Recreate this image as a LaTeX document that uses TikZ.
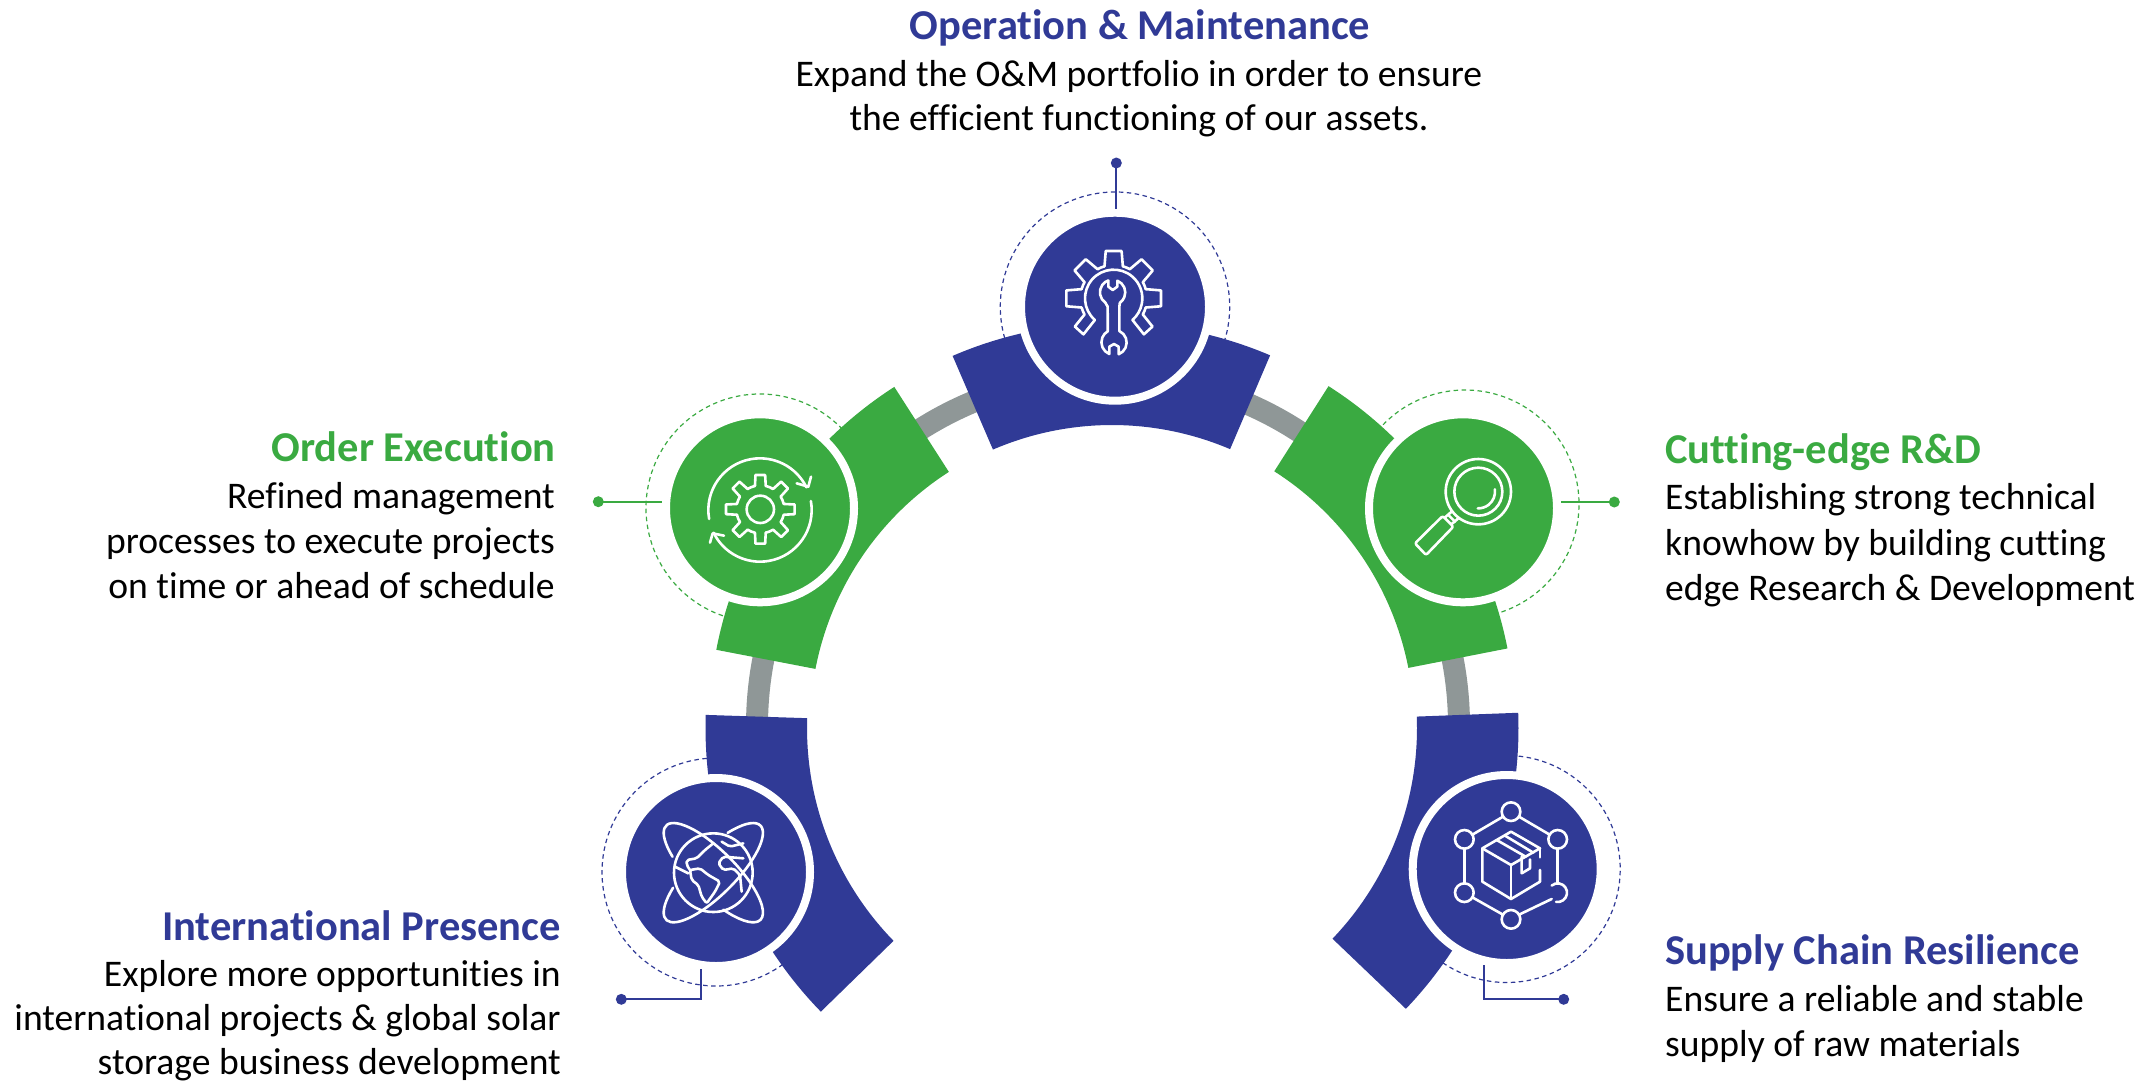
\documentclass[tikz,border=0pt]{standalone}
\usepackage{fontspec}
\setmainfont[Ligatures=CommonOff]{Carlito}
\definecolor{cblue}{HTML}{303A96}
\definecolor{cgreen}{HTML}{3AAA41}
\definecolor{cgrey}{HTML}{8F9797}
\newcommand\sector[7]{\fill[#1] ([shift={(#6:#5)}]#2,#3) arc[start angle=#6,end angle=#7,radius=#5] -- ([shift={(#7:#4)}]#2,#3) arc[start angle=#7,end angle=#6,radius=#4] -- cycle;}
\newcommand\halop[6]{\draw[halo=#1] ([shift={(#5:#4)}]#2,#3) arc[start angle=#5,end angle=#6,radius=#4];}
\tikzset{
  disc/.style={circle,fill=#1,draw=white,line width=8pt,minimum size=188pt,inner sep=0pt},
  dotn/.style={circle,fill=#1,draw=none,minimum size=11pt,inner sep=0pt},
  halo/.style={draw=#1,line width=1.2pt,dash pattern=on 4.5pt off 3.5pt},
  lead/.style={draw=#1,line width=2pt},
  ico/.style={draw=white,line width=2.6pt,line join=round,line cap=round},
  ttl/.style={font=\fontsize{42.5}{42.5}\selectfont\bfseries,text=#1,inner sep=0pt},
  bodyt/.style={font=\fontsize{37.6}{37.6}\selectfont,text=black,inner sep=0pt},
  zoomed/.style={shift={#1},x=0.33333pt,y=-0.33333pt},
}
\begin{document}
\begin{tikzpicture}[x=1pt,y=-1pt]
\useasboundingbox (0,0) rectangle (2154,1080);
% ring
\draw[cgrey,line width=22pt] ([shift={(180:351)}]1108,726) arc[start angle=180,end angle=360,radius=351];
% halos
\halop{cblue}{1115}{306.7}{114.7}{160}{380}
\halop{cgreen}{760}{508}{114}{105}{320}
\halop{cgreen}{1465}{504}{114}{220}{435}
\halop{cblue}{716}{872}{114}{50}{272}
\halop{cblue}{1506.7}{869}{113.5}{268}{488}
% sectors
\sector{cblue}{1112}{726}{301}{403}{246.7}{293.1}
\sector{cgreen}{1112}{726}{302}{403}{190.9}{237.3}
\sector{cgreen}{1112}{726}{302}{403}{302.5}{348.9}
\sector{cblue}{1112}{728}{305}{406.5}{135.75}{181.85}
\sector{cblue}{1112}{728}{305}{406.5}{357.85}{403.7}
% discs
\node[disc=cblue] (opm) at (1115,306.7) {};
\node[disc=cgreen] (ord) at (760,508.3) {};
\node[disc=cgreen] (rnd) at (1463,508.3) {};
\node[disc=cblue] (int) at (716,872) {};
\node[disc=cblue] (sup) at (1506.7,869) {};
% connectors
\node[dotn=cblue] (dopm) at (1116.3,163) {};
\coordinate (eopm) at (1116.3,209);
\draw[lead=cblue] (dopm.center) -- (eopm);
\node[dotn=cgreen] (dord) at (598.3,501.7) {};
\coordinate (eord) at (662,501.7);
\draw[lead=cgreen] (dord.center) -- (eord);
\node[dotn=cgreen] (drnd) at (1614.3,502) {};
\coordinate (ernd) at (1561,502);
\draw[lead=cgreen] (drnd.center) -- (ernd);
\node[dotn=cblue] (dint) at (621.3,999.3) {};
\coordinate (eint) at (701,969.3);
\draw[lead=cblue] (dint.center) -| (eint);
\node[dotn=cblue] (dsup) at (1563.7,999.3) {};
\coordinate (esup) at (1483.7,965);
\draw[lead=cblue] (dsup.center) -| (esup);
% icon: gear + wrench
\begin{scope}[zoomed={(920,130)},ico]
 \foreach \a in {180,225,270,315,360}{
  \draw ([shift={(\a-16:100)}]581,505) -- ([shift={(\a-9.5:144)}]581,505) -- ([shift={(\a+9.5:144)}]581,505) -- ([shift={(\a+16:100)}]581,505);
 }
 \foreach \a in {180,225,270,315}{
  \draw ([shift={(\a+16:100)}]581,505) arc[start angle=\a+16,end angle=\a+45-16,radius=100];
 }
 \draw ([shift={(131:86)}]581,505) -- ([shift={(130:141)}]581,505) -- ([shift={(144:144)}]581,505) -- ([shift={(151:100)}]581,505) arc[start angle=151,end angle=164,radius=100];
 \draw ([shift={(49:86)}]581,505) -- ([shift={(50:141)}]581,505) -- ([shift={(36:144)}]581,505) -- ([shift={(29:100)}]581,505) arc[start angle=29,end angle=16,radius=100];
 \draw ([shift={(131:86)}]581,505) arc[start angle=131,end angle=409,radius=86];
 \draw (592,452) arc[start angle=-68,end angle=55,radius=38] -- (598,530) -- (598,603) arc[start angle=-65,end angle=68,radius=38] -- (596,650) -- (582,642) -- (568,650) -- (568,672) arc[start angle=112,end angle=240,radius=38] -- (563,530) -- (556,518) arc[start angle=125,end angle=250,radius=38] -- (565,470) -- (578,480) -- (592,470) -- cycle;
\end{scope}
% icon: gear + arrows
\begin{scope}[zoomed={(580,370)},ico]
 \foreach \a in {0,45,...,315}{
  \draw ([shift={(\a-13:72)}]541,418) -- ([shift={(\a-8:104)}]541,418) -- ([shift={(\a+8:104)}]541,418) -- ([shift={(\a+13:72)}]541,418) arc[start angle=\a+13,end angle=\a+32,radius=72];
 }
 \draw (541,418) circle[radius=41];
 \draw ([shift={(170:155)}]540,420) arc[start angle=170,end angle=334,radius=155];
 \draw ([shift={(-10:155)}]540,420) arc[start angle=-10,end angle=154,radius=155];
 \draw (650,340) -- (685,350) -- (693,320);
 \draw (432,497) -- (398,490) -- (390,518);
\end{scope}
% icon: magnifier
\begin{scope}[zoomed={(1260,370)},ico]
 \draw (655,365) circle[radius=98];
 \draw (655,365) circle[radius=72];
 \draw ([shift={(-8:50)}]655,365) arc[start angle=-8,end angle=92,radius=50];
 \draw[rounded corners=2pt] (465,520) -- (498,555) -- (580,470) -- (548,438) -- cycle;
 \draw (554,443) -- (576,424);
 \draw (574,463) -- (596,444);
 \draw (565,435) -- (585,455);
\end{scope}
% icon: globe
\begin{scope}[zoomed={(590,700)},ico]
 \draw (370,518) circle[radius=118];
 \begin{scope}[shift={(370,518)},rotate=-45]
  \draw ([shift={(127:200 and 66)}]0,0) arc[start angle=127,end angle=420,x radius=200,y radius=66];
 \end{scope}
 \begin{scope}[shift={(370,518)},rotate=45]
  \draw ([shift={(234:200 and 66)}]0,0) arc[start angle=234,end angle=-55,x radius=200,y radius=66];
 \end{scope}
 \begin{scope}[rounded corners=2pt]
 \draw (300,510) -- (330,505) -- (355,525) -- (390,545) -- (375,575) -- (350,610) -- (335,590) -- (325,555) -- (305,540) -- cycle;
 \draw (370,430) -- (345,450) -- (320,475) -- (290,480) -- (290,495) -- (300,510);
 \draw (255,500) -- (295,520);
 \draw (460,475) -- (400,470) -- (385,490) -- (400,510) -- (430,505) -- (450,525) -- (455,575);
 \draw (395,425) -- (420,440) -- (460,430);
 \end{scope}
\end{scope}
% icon: box network
\begin{scope}[zoomed={(1320,700)},ico]
 \draw (573,335) circle[radius=28];
 \draw (713,418) circle[radius=28];
 \draw (433,418) circle[radius=28];
 \draw (433,578) circle[radius=28];
 \draw (573,658) circle[radius=28];
 \draw ([shift={(100:28)}]713,578) arc[start angle=100,end angle=-130,radius=28];
 \draw (597,350) -- (689,404);
 \draw (549,350) -- (457,404);
 \draw (433,446) -- (433,550);
 \draw (713,446) -- (713,550);
 \draw (457,592) -- (549,644);
 \draw (597,644) -- (695,597);
 \draw (573,395) -- (660,445) -- (573,495) -- (487,445) -- cycle;
 \draw (487,445) -- (487,545) -- (573,597) -- (660,545) -- (660,510);
 \draw (660,445) -- (660,472);
 \draw (573,495) -- (573,597);
 \draw (530,420) -- (617,470);
 \draw (555,407) -- (640,458);
 \draw (605,470) -- (605,520) -- (630,505) -- (630,478);
\end{scope}
% text
\node[ttl=cblue,anchor=base] (topt) at (1140,39.5) {Operation \& Maintenance};
\node[bodyt,anchor=base] (topa) at (1139,86) {Expand the O\&M portfolio in order to ensure};
\node[bodyt,anchor=base] (topb) at (1139,130) {the efficient functioning of our assets.};
\node[ttl=cgreen,anchor=base east] (ordt) at (556,461.5) {Order Execution};
\node[bodyt,anchor=base east] (orda) at (555,508) {Refined management};
\node[bodyt,anchor=base east] (ordb) at (555,553) {processes to execute projects};
\node[bodyt,anchor=base east] (ordc) at (555,598) {on time or ahead of schedule};
\node[ttl=cgreen,anchor=base west] (rndt) at (1665,463.5) {Cutting-edge R\&D};
\node[bodyt,anchor=base west] (rnda) at (1665,509) {Establishing strong technical};
\node[bodyt,anchor=base west] (rndb) at (1665,555) {knowhow by building cutting};
\node[bodyt,anchor=base west] (rndc) at (1665,600) {edge Research \& Development};
\node[ttl=cblue,anchor=base east] (intt) at (561,940.5) {International Presence};
\node[bodyt,anchor=base east] (inta) at (561,986) {Explore more opportunities in};
\node[bodyt,anchor=base east] (intb) at (561,1030) {international projects \& global solar};
\node[bodyt,anchor=base east] (intc) at (561,1074) {storage business development};
\node[ttl=cblue,anchor=base west] (supt) at (1665,964.5) {Supply Chain Resilience};
\node[bodyt,anchor=base west] (supa) at (1665,1011) {Ensure a reliable and stable};
\node[bodyt,anchor=base west] (supb) at (1665,1056) {supply of raw materials};
\end{tikzpicture}
\end{document}
